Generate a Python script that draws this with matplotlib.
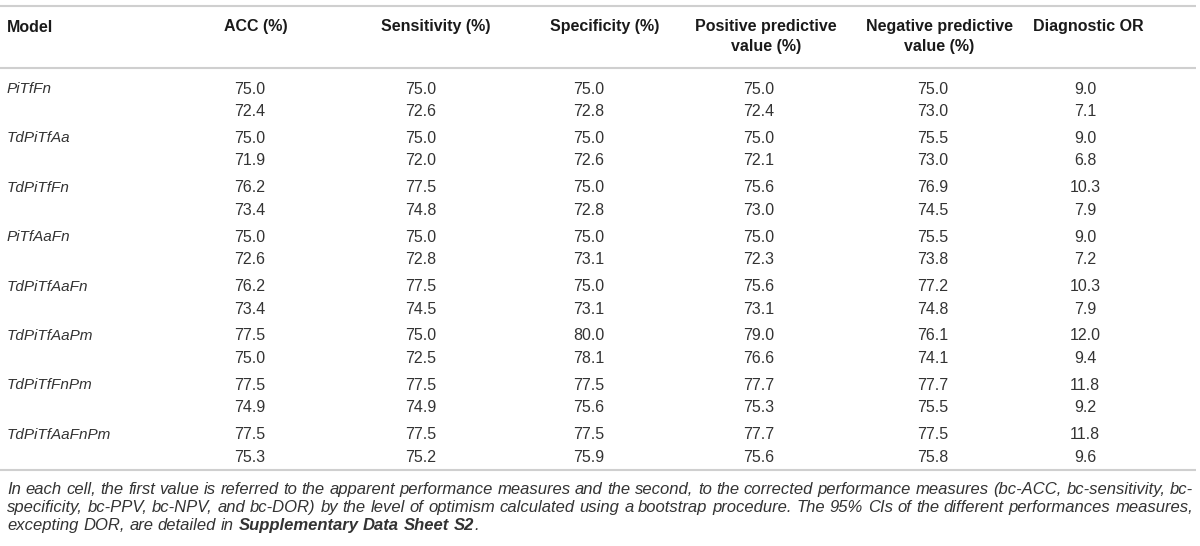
import matplotlib
matplotlib.use("Agg")
import matplotlib.pyplot as plt

plt.rcParams['font.family'] = ['Liberation Sans', 'DejaVu Sans']

# データ（各セル: 見かけの性能 / 補正後の性能）
models = ['PiTfFn', 'TdPiTfAa', 'TdPiTfFn', 'PiTfAaFn', 'TdPiTfAaFn',
          'TdPiTfAaPm', 'TdPiTfFnPm', 'TdPiTfAaFnPm']
headers = ['ACC (%)', 'Sensitivity (%)', 'Specificity (%)',
           'Positive predictive\nvalue (%)', 'Negative predictive\nvalue (%)',
           'Diagnostic OR']

acc = [75.0, 75.0, 76.2, 75.0, 76.2, 77.5, 77.5, 77.5]
bc_acc = [72.4, 71.9, 73.4, 72.6, 73.4, 75.0, 74.9, 75.3]
sens = [75.0, 75.0, 77.5, 75.0, 77.5, 75.0, 77.5, 77.5]
bc_sens = [72.6, 72.0, 74.8, 72.8, 74.5, 72.5, 74.9, 75.2]
spec = [75.0, 75.0, 75.0, 75.0, 75.0, 80.0, 77.5, 77.5]
bc_spec = [72.8, 72.6, 72.8, 73.1, 73.1, 78.1, 75.6, 75.9]
ppv = [75.0, 75.0, 75.6, 75.0, 75.6, 79.0, 77.7, 77.7]
bc_ppv = [72.4, 72.1, 73.0, 72.3, 73.1, 76.6, 75.3, 75.6]
npv = [75.0, 75.5, 76.9, 75.5, 77.2, 76.1, 77.7, 77.5]
bc_npv = [73.0, 73.0, 74.5, 73.8, 74.8, 74.1, 75.5, 75.8]
dor = [9.0, 9.0, 10.3, 9.0, 10.3, 12.0, 11.8, 11.8]
bc_dor = [7.1, 6.8, 7.9, 7.2, 7.9, 9.4, 9.2, 9.6]

apparent = [acc, sens, spec, ppv, npv, dor]
corrected = [bc_acc, bc_sens, bc_spec, bc_ppv, bc_npv, bc_dor]

footnote = [
    [('In each cell, the first value is referred to the apparent performance measures and the second, '
      'to the corrected performance measures (bc-ACC, bc-sensitivity, bc-', 'i')],
    [('specificity, bc-PPV, bc-NPV, and bc-DOR) by the level of optimism calculated using a bootstrap '
      'procedure. The 95% CIs of the different performances measures,', 'i')],
    [('excepting DOR, are detailed in', 'i'), ('Supplementary Data Sheet S2', 'bi'), ('.', 'i')],
]

# レイアウト（ピクセル座標）
W, H = 1200, 546
header_x = [256, 436, 605, 766, 939, 1088]
value_x = [250, 421, 589, 759, 933, 1085]
left = 7
right = 1193

fig = plt.figure(figsize=(W / 100, H / 100), dpi=100)
ax = fig.add_axes([0, 0, 1, 1])
ax.set_xlim(0, W)
ax.set_ylim(H, 0)
ax.axis('off')

line_col = '#cfcfcf'
for y in [6, 68, 470]:
    ax.plot([0, 1196], [y, y], color=line_col, lw=1.5, solid_capstyle='butt')

head_col = '#1a1a1a'
val_col = '#333333'
ax.text(left, 27, 'Model', fontsize=11.5, fontweight='bold', color=head_col,
        ha='left', va='center')
for x, h in zip(header_x, headers):
    ax.text(x, 19, h, fontsize=11.5, fontweight='bold', color=head_col,
            ha='center', va='top', linespacing=1.45)

y0 = 89
group_step = 49.4
row_step = 22.5
for i, m in enumerate(models):
    y = y0 + i * group_step
    ax.text(left, y, m, fontsize=11, style='italic', color=val_col,
            ha='left', va='center')
    for j in range(len(headers)):
        ax.text(value_x[j], y, f'{apparent[j][i]:.1f}', fontsize=11.5,
                color=val_col, ha='center', va='center')
        ax.text(value_x[j], y + row_step, f'{corrected[j][i]:.1f}', fontsize=11.5,
                color=val_col, ha='center', va='center')

# 脚注（両端揃え）
fig.canvas.draw()
renderer = fig.canvas.get_renderer()
foot_size = 12


def word_text(x, y, s, sty):
    return ax.text(x, y, s, fontsize=foot_size, style='italic',
                   fontweight='bold' if 'b' in sty else 'normal',
                   color=val_col, ha='left', va='baseline')


def width_of(t):
    return t.get_window_extent(renderer).width


# スペース幅を測る
space_t = word_text(100, 100, 'a a', 'i')
aa_t = word_text(100, 100, 'aa', 'i')
space_w = width_of(space_t) - width_of(aa_t)
space_t.remove()
aa_t.remove()

foot_base = [494, 512, 530]
for k, segs in enumerate(footnote):
    words = []
    for seg, sty in segs:
        if seg == '.':
            words.append((seg, sty, False))
        else:
            for w in seg.split(' '):
                words.append((w, sty, True))
    texts = [word_text(left, foot_base[k], w, sty) for w, sty, _ in words]
    widths = [width_of(t) for t in texts]
    n_gaps = sum(1 for w in words[1:] if w[2])
    justify = k < len(footnote) - 1
    gap = (right - left - sum(widths)) / n_gaps if justify else space_w
    x = left
    for idx, (t, wd) in enumerate(zip(texts, widths)):
        if idx > 0 and words[idx][2]:
            x += gap
        t.set_x(x)
        x += wd

fig.savefig('out.png', dpi=100)
